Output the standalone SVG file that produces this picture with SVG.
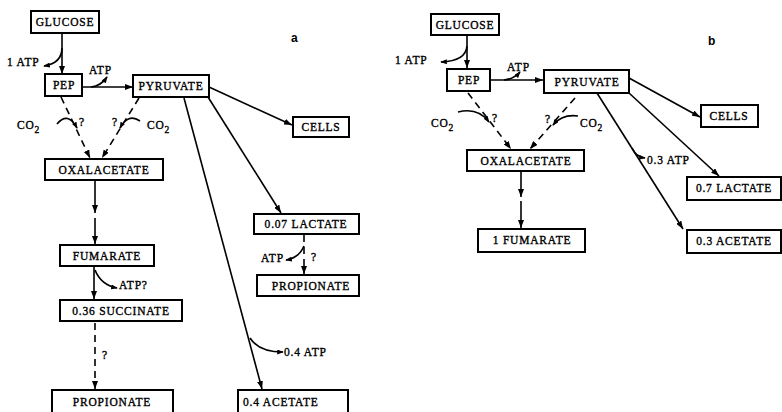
<svg xmlns="http://www.w3.org/2000/svg" width="782" height="412" viewBox="0 0 782 412">
<defs>
<marker id="ah" viewBox="0 0 8 6" refX="8" refY="3" markerWidth="8" markerHeight="6" markerUnits="userSpaceOnUse" orient="auto">
<path d="M0,0 L8,3 L0,6 z" fill="#000"/>
</marker>
<marker id="ahs" viewBox="0 0 8 6" refX="7" refY="3" markerWidth="7" markerHeight="5" markerUnits="userSpaceOnUse" orient="auto">
<path d="M0,0 L8,3 L0,6 z" fill="#000"/>
</marker>
</defs>
<style>
.box{fill:#fff;stroke:#000;stroke-width:2}
.t{font-family:"Liberation Serif",serif;font-size:11.5px;letter-spacing:0.8px;fill:#000;stroke:#000;stroke-width:0.35px}
.c{text-anchor:middle}
.ln{fill:none;stroke:#000;stroke-width:1.6;marker-end:url(#ah)}
.ds{fill:none;stroke:#000;stroke-width:1.6;stroke-dasharray:7 5;marker-end:url(#ah)}
.cv{fill:none;stroke:#000;stroke-width:1.7;marker-end:url(#ahs)}
.lab{font-family:"Liberation Sans",sans-serif;font-size:12px;font-weight:bold;fill:#000}
</style>
<rect width="782" height="412" fill="#fff"/>

<g id="connectors">
<!-- panel a -->
<path class="ln" d="M62,33 V74"/>
<path class="ln" d="M82,87 H133"/>
<path class="ds" d="M61,97 L90,158"/>
<path class="ds" d="M139,98 L102,158"/>
<path class="ln" d="M209,87 L292,125"/>
<path class="ln" d="M208,97 L281,213"/>
<path class="ln" d="M184,98 L262,389"/>
<path class="ln" d="M95,180 V213"/>
<path class="ln" d="M95,218 V244"/>
<path class="ln" d="M94,266 V299"/>
<path class="ds" d="M95,323 V389"/>
<path class="ds" d="M304,235 V274"/>
<path class="cv" d="M62,48 Q62,63 44,66"/>
<path class="cv" d="M91,87 Q101,86 107,77"/>
<path class="cv" d="M57,124 Q68,111 77,128"/>
<path class="cv" d="M140,121 Q128,113 120,128"/>
<path class="cv" d="M95,270 Q101,285 117,288"/>
<path class="cv" d="M304,246 Q299,258 286,260"/>
<path class="cv" d="M250,338 Q259,352 283,352"/>
<!-- panel b -->
<path class="ln" d="M467,35 V68"/>
<path class="ln" d="M490,80 H543"/>
<path class="ds" d="M468,93 L511,149"/>
<path class="ds" d="M575,98 L530,149"/>
<path class="ln" d="M629,78 L700,117"/>
<path class="ln" d="M629,93 L719,176"/>
<path class="ln" d="M597,93 L683,229"/>
<path class="ln" d="M521,171 V197"/>
<path class="ln" d="M521,201 V228"/>
<path class="cv" d="M467,46 Q466,61 441,62"/>
<path class="cv" d="M504,80 Q514,79 520,72"/>
<path class="cv" d="M458,112 Q478,107 489,122"/>
<path class="cv" d="M578,116 Q562,114 553,125"/>
<path class="cv" d="M632,148 Q636,157 645,158"/>
</g>

<g id="labels">
<text class="lab" x="291" y="42">a</text>
<text class="lab" x="708" y="45">b</text>
<text class="t" x="7" y="66">1 ATP</text>
<text class="t" x="89" y="74">ATP</text>
<text class="t" x="17" y="129">CO<tspan font-size="9.5" dy="4">2</tspan></text>
<text class="t" x="79" y="126" font-size="9">?</text>
<text class="t" x="112" y="126" font-size="9">?</text>
<text class="t" x="147" y="129">CO<tspan font-size="9.5" dy="4">2</tspan></text>
<text class="t" x="119" y="289">ATP?</text>
<text class="t" x="102" y="359" font-size="9">?</text>
<text class="t" x="261" y="262">ATP</text>
<text class="t" x="311" y="261" font-size="9">?</text>
<text class="t" x="284" y="356">0.4 ATP</text>
<text class="t" x="395" y="64">1 ATP</text>
<text class="t" x="507" y="71">ATP</text>
<text class="t" x="431" y="127">CO<tspan font-size="9.5" dy="4">2</tspan></text>
<text class="t" x="492" y="122" font-size="9">?</text>
<text class="t" x="545" y="123" font-size="9">?</text>
<text class="t" x="580" y="127">CO<tspan font-size="9.5" dy="4">2</tspan></text>
<text class="t" x="647" y="164">0.3 ATP</text>
</g>

<g id="a-glucose"><rect class="box" x="31" y="11" width="68" height="22"/><text class="t c" x="65" y="26">GLUCOSE</text></g>
<g id="a-pep"><rect class="box" x="45" y="74" width="37" height="22"/><text class="t c" x="64" y="89">PEP</text></g>
<g id="a-pyruvate"><rect class="box" x="133" y="75" width="76" height="22"/><text class="t c" x="171" y="90">PYRUVATE</text></g>
<g id="a-cells"><rect class="box" x="293" y="117" width="56" height="20"/><text class="t c" x="321" y="131">CELLS</text></g>
<g id="a-oxalacetate"><rect class="box" x="45" y="159" width="118" height="21"/><text class="t c" x="104" y="174">OXALACETATE</text></g>
<g id="a-fumarate"><rect class="box" x="60" y="245" width="94" height="21"/><text class="t c" x="107" y="260">FUMARATE</text></g>
<g id="a-succinate"><rect class="box" x="60" y="300" width="122" height="21"/><text class="t c" x="121" y="315">0.36 SUCCINATE</text></g>
<g id="a-propionate1"><rect class="box" x="52" y="390" width="121" height="26"/><text class="t c" x="112" y="406">PROPIONATE</text></g>
<g id="a-lactate"><rect class="box" x="254" y="214" width="105" height="20"/><text class="t c" x="306" y="228">0.07 LACTATE</text></g>
<g id="a-propionate2"><rect class="box" x="257" y="275" width="102" height="21"/><text class="t c" x="311" y="290">PROPIONATE</text></g>
<g id="a-acetate"><rect class="box" x="238" y="390" width="110" height="26"/><text class="t" x="243" y="406">0.4 ACETATE</text></g>

<g id="b-glucose"><rect class="box" x="431" y="14" width="68" height="21"/><text class="t c" x="465" y="29">GLUCOSE</text></g>
<g id="b-pep"><rect class="box" x="447" y="69" width="43" height="22"/><text class="t c" x="469" y="84">PEP</text></g>
<g id="b-pyruvate"><rect class="box" x="544" y="70" width="85" height="23"/><text class="t c" x="587" y="86">PYRUVATE</text></g>
<g id="b-cells"><rect class="box" x="701" y="105" width="57" height="22"/><text class="t c" x="729" y="120">CELLS</text></g>
<g id="b-oxalacetate"><rect class="box" x="467" y="150" width="117" height="21"/><text class="t c" x="526" y="165">OXALACETATE</text></g>
<g id="b-fumarate"><rect class="box" x="478" y="229" width="107" height="23"/><text class="t c" x="532" y="244">1 FUMARATE</text></g>
<g id="b-lactate"><rect class="box" x="687" y="177" width="94" height="23"/><text class="t c" x="734" y="192">0.7 LACTATE</text></g>
<g id="b-acetate"><rect class="box" x="687" y="230" width="94" height="23"/><text class="t c" x="734" y="245">0.3 ACETATE</text></g>
</svg>
